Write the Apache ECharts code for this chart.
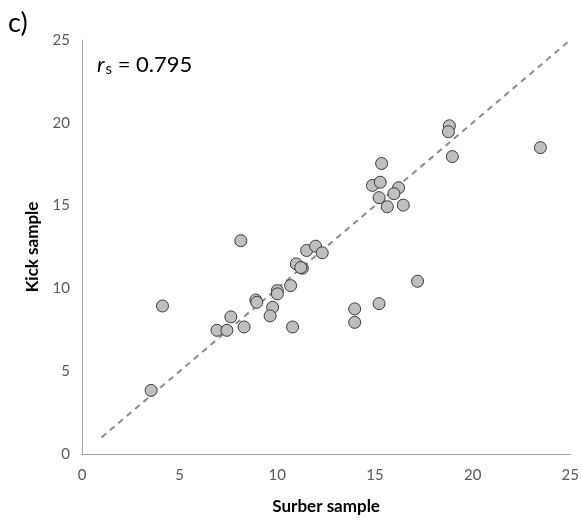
<!DOCTYPE html>
<html>
<head>
<meta charset="utf-8">
<script src="https://cdn.jsdelivr.net/npm/echarts@6/dist/echarts.min.js"></script>
<style>
  html, body { margin: 0; padding: 0; background: #fff; }
  #chart { width: 582px; height: 528px; }
</style>
</head>
<body>
<div id="chart"></div>
<script>
// Paired counts: Surber sample (x) vs Kick sample (y)
const surber = [18.81, 18.76, 18.96, 23.47, 15.34, 14.87, 15.27, 16.21, 15.97, 15.21,
                15.63, 16.45, 8.13, 11.5, 11.96, 12.3, 10.97, 11.28, 11.2, 10.68,
                10.0, 10.0, 8.9, 8.95, 9.76, 9.63, 8.3, 10.78, 13.96, 13.96,
                15.21, 17.18, 4.12, 6.91, 7.42, 7.62, 3.54];
const kick   = [19.82, 19.46, 17.96, 18.5, 17.54, 16.22, 16.41, 16.08, 15.72, 15.48,
                14.93, 15.03, 12.88, 12.29, 12.55, 12.15, 11.48, 11.22, 11.26, 10.17,
                9.87, 9.67, 9.3, 9.16, 8.86, 8.34, 7.67, 7.67, 8.76, 7.95,
                9.08, 10.43, 8.94, 7.47, 7.47, 8.28, 3.84];
// 1:1 reference line
const identityLine = [[1, 1], [25, 25]];
const axisTicks = [0, 5, 10, 15, 20, 25];

const points = surber.map((x, i) => [x, kick[i]]);
const font = 'Lato, "Open Sans", sans-serif';

const chart = echarts.init(document.getElementById('chart'), null, { renderer: 'canvas' });
chart.setOption({
  animation: false,
  backgroundColor: '#ffffff',
  textStyle: { fontFamily: font },
  grid: { left: 82, right: 10, top: 40, bottom: 74 },
  title: [
    {
      text: 'c)', left: 3, top: 5,
      textStyle: { fontFamily: font, fontSize: 27, fontWeight: 'normal', color: '#000' }
    },
    {
      text: '{r|r}{s|s}{t| = 0.795}', left: 92, top: 47,
      textStyle: {
        fontFamily: font, fontWeight: 'normal',
        rich: {
          r: { fontSize: 22, fontStyle: 'italic', fontWeight: 'normal', color: '#000', fontFamily: font },
          s: { fontSize: 15, fontWeight: 'normal', color: '#000', fontFamily: font, padding: [10, 0, 0, 1] },
          t: { fontSize: 22, fontWeight: 'normal', color: '#000', fontFamily: font }
        }
      }
    }
  ],
  xAxis: {
    type: 'value', min: 0, max: 25, interval: 5,
    name: 'Surber sample', nameLocation: 'middle', nameGap: 44,
    nameTextStyle: { fontFamily: font, fontSize: 17, fontWeight: 'bold', color: '#000' },
    axisLine: { show: true, lineStyle: { color: '#a6a6a6', width: 1 } },
    axisTick: { show: false },
    splitLine: { show: false },
    axisLabel: { fontFamily: font, fontSize: 15, color: '#595959', margin: 14,
      formatter: v => axisTicks.includes(v) ? String(v) : '' }
  },
  yAxis: {
    type: 'value', min: 0, max: 25, interval: 5,
    name: 'Kick sample', nameLocation: 'middle', nameGap: 41,
    nameTextStyle: { fontFamily: font, fontSize: 17, fontWeight: 'bold', color: '#000' },
    axisLine: { show: true, lineStyle: { color: '#a6a6a6', width: 1 } },
    axisTick: { show: false },
    splitLine: { show: false },
    axisLabel: { fontFamily: font, fontSize: 15, color: '#595959', margin: 12,
      formatter: v => axisTicks.includes(v) ? String(v) : '' }
  },
  series: [
    {
      type: 'line', data: identityLine, symbol: 'none', silent: true, z: 1,
      lineStyle: { color: '#8c8c8c', width: 2, type: [6, 5] }
    },
    {
      type: 'scatter', data: points, symbol: 'circle', symbolSize: 12, z: 2,
      itemStyle: { color: '#bfbfbf', borderColor: '#3a3a3a', borderWidth: 1, opacity: 1 }
    }
  ]
});
</script>
</body>
</html>
